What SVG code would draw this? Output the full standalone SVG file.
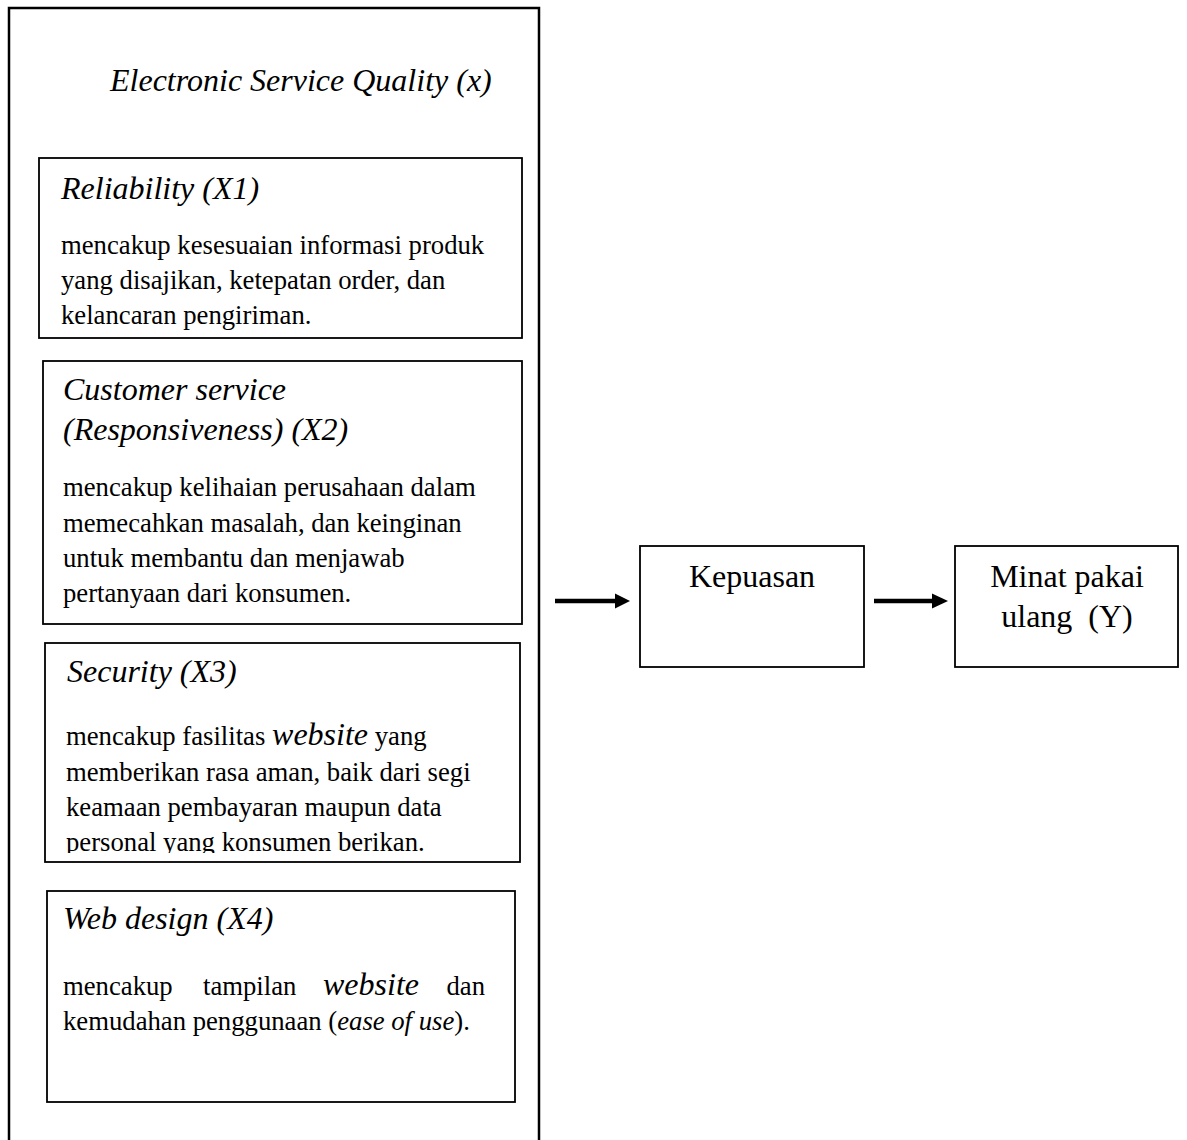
<svg xmlns="http://www.w3.org/2000/svg" width="1187" height="1140" viewBox="0 0 1187 1140">
<style>
  .box { fill: #fff; stroke: #000; stroke-width: 1.8; }
  .t { font-family: "Liberation Serif", "Times New Roman", serif; fill: #000; }
  .title { font-size: 32px; font-style: italic; }
  .body { font-size: 26.7px; }
  .big { font-size: 32px; font-style: italic; }
  .node { font-size: 32px; }
  .conn { stroke: #000; stroke-width: 4.5; fill: none; }
  .head { fill: #000; stroke: none; }
</style>
<defs>
  <clipPath id="clipX3"><rect x="45" y="643" width="475" height="210"/></clipPath>
</defs>
<rect width="1187" height="1140" fill="#fff"/>

<g id="eservqual">
  <path d="M9,1145 L9,8 L539,8 L539,1145" fill="none" stroke="#000" stroke-width="2.5"/>
  <text class="t title" x="110" y="91">Electronic Service Quality (x)</text>
</g>

<g id="x1">
  <rect class="box" x="39" y="158" width="483" height="180"/>
  <text class="t title" x="61" y="199">Reliability (X1)</text>
  <text class="t body" x="61" y="254">mencakup kesesuaian informasi produk</text>
  <text class="t body" x="61" y="289">yang disajikan, ketepatan order, dan</text>
  <text class="t body" x="61" y="324">kelancaran pengiriman.</text>
</g>

<g id="x2">
  <rect class="box" x="43" y="361" width="479" height="263"/>
  <text class="t title" x="63" y="400">Customer service</text>
  <text class="t title" x="63" y="440">(Responsiveness) (X2)</text>
  <text class="t body" x="63" y="496">mencakup kelihaian perusahaan dalam</text>
  <text class="t body" x="63" y="532">memecahkan masalah, dan keinginan</text>
  <text class="t body" x="63" y="567">untuk membantu dan menjawab</text>
  <text class="t body" x="63" y="602">pertanyaan dari konsumen.</text>
</g>

<g id="x3">
  <rect class="box" x="45" y="643" width="475" height="219"/>
  <text class="t title" x="67" y="682">Security (X3)</text>
  <g clip-path="url(#clipX3)">
    <text class="t body" x="66" y="745">mencakup fasilitas <tspan class="big">website</tspan> yang</text>
    <text class="t body" x="66" y="781">memberikan rasa aman, baik dari segi</text>
    <text class="t body" x="66" y="816">keamaan pembayaran maupun data</text>
    <text class="t body" x="66" y="851">personal yang konsumen berikan.</text>
  </g>
</g>

<g id="x4">
  <rect class="box" x="47" y="891" width="468" height="211"/>
  <text class="t title" x="63" y="929">Web design (X4)</text>
  <text class="t body" x="63" y="995">mencakup</text>
  <text class="t body" x="203" y="995">tampilan</text>
  <text class="t big" x="323" y="995">website</text>
  <text class="t body" x="485" y="995" text-anchor="end">dan</text>
  <text class="t body" x="63" y="1030">kemudahan penggunaan (<tspan font-style="italic">ease of use</tspan>).</text>
</g>

<g id="kepuasan">
  <rect class="box" x="640" y="546" width="224" height="121"/>
  <text class="t node" x="752" y="587" text-anchor="middle">Kepuasan</text>
</g>

<g id="minat">
  <rect class="box" x="955" y="546" width="223" height="121"/>
  <text class="t node" x="1067" y="587" text-anchor="middle">Minat pakai</text>
  <text class="t node" x="1067" y="627" text-anchor="middle" xml:space="preserve">ulang  (Y)</text>
</g>

<g id="connectors">
  <line class="conn" x1="555" y1="601" x2="618" y2="601"/>
  <polygon class="head" points="615,593.5 630,601 615,608.5"/>
  <line class="conn" x1="874" y1="601" x2="935" y2="601"/>
  <polygon class="head" points="932,593.5 948,601 932,608.5"/>
</g>
</svg>
